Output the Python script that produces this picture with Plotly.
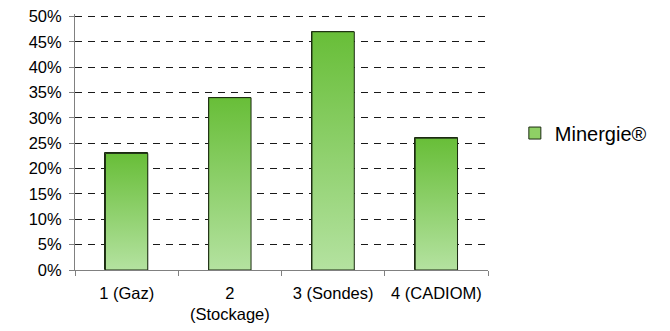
import plotly.graph_objects as go

# Share of systems per variant (percent)
categories = ["1 (Gaz)", "2<br>(Stockage)", "3 (Sondes)", "4 (CADIOM)"]
values = [23, 34, 47, 26]
series_name = "Minergie®"
y_ticks = [0, 5, 10, 15, 20, 25, 30, 35, 40, 45, 50]
y_tick_labels = [f"{t}%" for t in y_ticks]

BAR_WIDTH = 0.41
TOP_GREEN = "#68be38"
BOTTOM_GREEN = "#b4e2a0"
EDGE = "#1c2b12"
FONT = "Liberation Sans, Arial, sans-serif"

positions = list(range(len(categories)))

fig = go.Figure()

# Base bars (also provide the legend entry)
fig.add_trace(go.Bar(
    x=positions, y=values, width=BAR_WIDTH, name=series_name,
    marker=dict(color="#8fd065", line=dict(color=EDGE, width=1)),
    showlegend=True, hoverinfo="skip",
))

# Gradient-filled overlays, dark at the top fading to light at the base
for xi, v in zip(positions, values):
    x0, x1 = xi - BAR_WIDTH / 2, xi + BAR_WIDTH / 2
    fig.add_trace(go.Scatter(
        x=[x0, x1, x1, x0, x0], y=[0, 0, v, v, 0],
        mode="lines", fill="toself",
        line=dict(color=EDGE, width=1),
        fillgradient=dict(type="vertical",
                          colorscale=[[0, BOTTOM_GREEN], [1, TOP_GREEN]]),
        showlegend=False, hoverinfo="skip",
    ))

fig.update_layout(
    width=670, height=331,
    margin=dict(l=75, r=182, t=13.5, b=60.5, autoexpand=False),
    paper_bgcolor="white", plot_bgcolor="white",
    font=dict(family=FONT, size=16.5, color="#000000"),
    legend=dict(x=1.065, y=0.535, xanchor="left", yanchor="middle",
                font=dict(size=20), bgcolor="rgba(0,0,0,0)"),
    bargap=0,
)

fig.update_xaxes(
    range=[-0.5, 3.5],
    tickvals=positions, ticktext=categories,
    ticks="", showgrid=False, zeroline=False,
    showline=True, linecolor="#808080", linewidth=1,
    minor=dict(tick0=-0.5, dtick=1, ticks="outside", ticklen=5,
               tickcolor="#808080", showgrid=False),
    ticklabelstandoff=8, automargin=False,
    tickfont=dict(size=16.5),
)

fig.update_yaxes(
    range=[0, 50.5],
    tickvals=y_ticks, ticktext=y_tick_labels,
    ticks="outside", ticklen=5, tickcolor="#808080",
    showline=True, linecolor="#808080", linewidth=1,
    showgrid=True, gridcolor="#1a1a1a", gridwidth=1, griddash="7px,6px",
    zeroline=False, ticklabelstandoff=4, automargin=False,
    tickfont=dict(size=16.5),
)

fig.write_html("out.html")
